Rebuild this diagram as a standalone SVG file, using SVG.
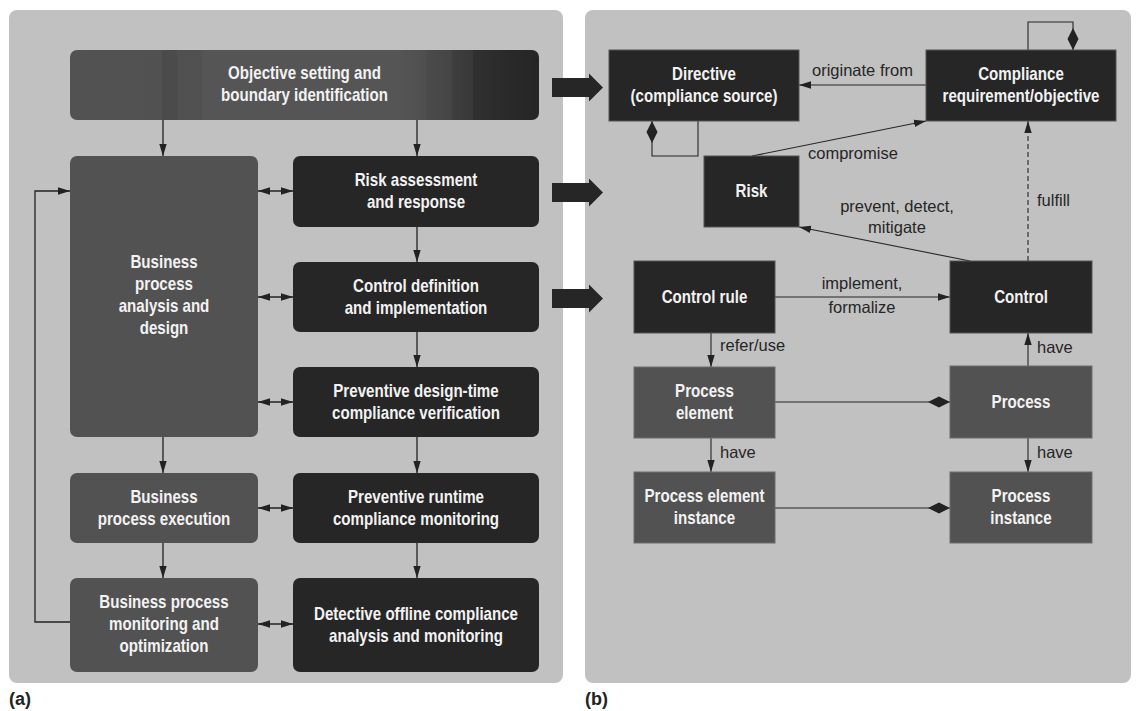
<svg xmlns="http://www.w3.org/2000/svg" width="1136" height="711" viewBox="0 0 1136 711">
  <defs>
    <style>
      .panel { fill: #c1c1c1; }
      .dk { fill: #262626; }
      .md { fill: #525252; }
      .bdk { fill: #262626; stroke: #555; stroke-width: 1; }
      .bmd { fill: #525252; stroke: #6c6c6c; stroke-width: 1; }
      .nt { font-family: "Liberation Sans", Arial, sans-serif; font-size: 18px; font-weight: bold; fill: #f2f2f2; text-anchor: middle; }
      .el { font-family: "Liberation Sans", Arial, sans-serif; font-size: 16.5px; fill: #262626; }
      .elc { text-anchor: middle; }
      .cap { font-family: "Liberation Sans", Arial, sans-serif; font-size: 18px; font-weight: bold; fill: #222; }
      .ln { fill: none; stroke: #222; stroke-width: 1.3; }
      .lt { fill: none; stroke: #262626; stroke-width: 1.1; }
      .arr { marker-end: url(#ah); }
      .dbl { marker-start: url(#ah); marker-end: url(#ah); }
      .blk { fill: #262626; }
    </style>
    <marker id="ah" markerUnits="userSpaceOnUse" markerWidth="12" markerHeight="8" refX="12" refY="4" orient="auto-start-reverse">
      <path d="M0,0.3 L12,4 L0,7.7 z" fill="#222"/>
    </marker>
    <marker id="dm" markerUnits="userSpaceOnUse" markerWidth="22" markerHeight="12" refX="22" refY="6" orient="auto-start-reverse">
      <path d="M0,6 L11,0.5 L22,6 L11,11.5 z" fill="#222"/>
    </marker>
    <!-- banded dark gradient of the top objective box -->
    <linearGradient id="objFill" x1="0" y1="0" x2="1" y2="0">
      <stop offset="0" stop-color="#525252"/>
      <stop offset="0.196" stop-color="#515151"/>
      <stop offset="0.196" stop-color="#4b4b4b"/>
      <stop offset="0.228" stop-color="#4b4b4b"/>
      <stop offset="0.228" stop-color="#505050"/>
      <stop offset="0.281" stop-color="#515151"/>
      <stop offset="0.281" stop-color="#555555"/>
      <stop offset="0.70" stop-color="#555555"/>
      <stop offset="0.76" stop-color="#4f4f4f"/>
      <stop offset="0.76" stop-color="#4b4b4b"/>
      <stop offset="0.815" stop-color="#454545"/>
      <stop offset="0.815" stop-color="#3e3e3e"/>
      <stop offset="0.86" stop-color="#383838"/>
      <stop offset="0.86" stop-color="#303030"/>
      <stop offset="0.915" stop-color="#2b2b2b"/>
      <stop offset="1" stop-color="#252525"/>
    </linearGradient>
  </defs>

  <rect width="1136" height="711" fill="#ffffff"/>

  <!-- panels -->
  <rect class="panel" x="9" y="10" width="554" height="673" rx="8"/>
  <rect class="panel" x="585" y="10" width="546" height="673" rx="8"/>
  <text class="cap" x="9" y="705">(a)</text>
  <text class="cap" x="585" y="705">(b)</text>

  <!-- block arrows linking (a) to (b) -->
  <g id="bridge">
    <polygon class="blk" points="552,78 589,78 589,73.5 603,87.5 589,101.5 589,97 552,97"/>
    <polygon class="blk" points="552,183 589,183 589,178.5 603,192.5 589,206.5 589,202 552,202"/>
    <polygon class="blk" points="552,289 589,289 589,284.5 603,298.5 589,312.5 589,308 552,308"/>
  </g>

  <!-- connectors -->
  <g id="connectors">
    <!-- (a) process flow -->
    <path class="ln arr" d="M163,120 V156"/>
    <path class="ln arr" d="M417,120 V156"/>
    <path class="ln arr" d="M417,227 V262"/>
    <path class="ln arr" d="M417,332 V367"/>
    <path class="ln arr" d="M417,437 V473"/>
    <path class="ln arr" d="M417,543 V578"/>
    <path class="ln arr" d="M163,437 V473"/>
    <path class="ln arr" d="M163,543 V578"/>
    <path class="ln dbl" d="M258,191 H293"/>
    <path class="ln dbl" d="M258,297 H293"/>
    <path class="ln dbl" d="M258,402 H293"/>
    <path class="ln dbl" d="M258,508 H293"/>
    <path class="ln dbl" d="M258,624 H293"/>
    <path class="ln arr" d="M70,622 H35 V191 H70"/>

    <!-- (b) metamodel relations -->
    <path class="lt arr" d="M926,85 H799"/>
    <path class="lt" d="M1028,50 V22 H1073 V50" marker-end="url(#dm)"/>
    <path class="lt" d="M652,121 V156 H698 V121" marker-start="url(#dm)"/>
    <path class="lt arr" d="M752,156 L926,121"/>
    <path class="lt arr" d="M970,261 L799,227"/>
    <path class="lt arr" d="M1028,261 V121" stroke-dasharray="5,3"/>
    <path class="lt arr" d="M775,297 H950"/>
    <path class="lt arr" d="M711,333 V367"/>
    <path class="lt arr" d="M711,438 V472"/>
    <path class="lt arr" d="M1028,366 V333"/>
    <path class="lt arr" d="M1028,438 V472"/>
    <path class="lt" d="M775,402 H950" marker-end="url(#dm)"/>
    <path class="lt" d="M775,508 H950" marker-end="url(#dm)"/>

    <text class="el" x="812" y="76">originate from</text>
    <text class="el" x="808" y="159">compromise</text>
    <text class="el elc" x="897" y="212">prevent, detect,</text>
    <text class="el elc" x="897" y="233">mitigate</text>
    <text class="el" x="1037" y="206">fulfill</text>
    <text class="el elc" x="862" y="289">implement,</text>
    <text class="el elc" x="862" y="313">formalize</text>
    <text class="el" x="720" y="351">refer/use</text>
    <text class="el" x="720" y="458">have</text>
    <text class="el" x="1037" y="353">have</text>
    <text class="el" x="1037" y="458">have</text>
  </g>

  <!-- (a) compliance management lifecycle -->
  <g id="objective">
    <rect x="70" y="50" width="469" height="70" rx="7" fill="url(#objFill)"/>
    <text class="nt" transform="translate(304.5,0) scale(0.84,1)"><tspan x="0" y="79">Objective setting and</tspan><tspan x="0" y="101">boundary identification</tspan></text>
  </g>
  <g id="bp-analysis">
    <rect class="md" x="70" y="156" width="188" height="281" rx="7"/>
    <text class="nt" transform="translate(164,0) scale(0.84,1)"><tspan x="0" y="268">Business</tspan><tspan x="0" y="290">process</tspan><tspan x="0" y="312">analysis and</tspan><tspan x="0" y="334">design</tspan></text>
  </g>
  <g id="risk-assessment">
    <rect class="dk" x="293" y="156" width="246" height="71" rx="7"/>
    <text class="nt" transform="translate(416,0) scale(0.84,1)"><tspan x="0" y="186">Risk assessment</tspan><tspan x="0" y="208">and response</tspan></text>
  </g>
  <g id="control-definition">
    <rect class="dk" x="293" y="262" width="246" height="70" rx="7"/>
    <text class="nt" transform="translate(416,0) scale(0.84,1)"><tspan x="0" y="292">Control definition</tspan><tspan x="0" y="314">and implementation</tspan></text>
  </g>
  <g id="design-time-verification">
    <rect class="dk" x="293" y="367" width="246" height="70" rx="7"/>
    <text class="nt" transform="translate(416,0) scale(0.84,1)"><tspan x="0" y="397">Preventive design-time</tspan><tspan x="0" y="419">compliance verification</tspan></text>
  </g>
  <g id="bp-execution">
    <rect class="md" x="70" y="473" width="188" height="70" rx="7"/>
    <text class="nt" transform="translate(164,0) scale(0.84,1)"><tspan x="0" y="503">Business</tspan><tspan x="0" y="525">process execution</tspan></text>
  </g>
  <g id="runtime-monitoring">
    <rect class="dk" x="293" y="473" width="246" height="70" rx="7"/>
    <text class="nt" transform="translate(416,0) scale(0.84,1)"><tspan x="0" y="503">Preventive runtime</tspan><tspan x="0" y="525">compliance monitoring</tspan></text>
  </g>
  <g id="bp-monitoring">
    <rect class="md" x="70" y="578" width="188" height="94" rx="7"/>
    <text class="nt" transform="translate(164,0) scale(0.84,1)"><tspan x="0" y="608">Business process</tspan><tspan x="0" y="630">monitoring and</tspan><tspan x="0" y="652">optimization</tspan></text>
  </g>
  <g id="offline-analysis">
    <rect class="dk" x="293" y="578" width="246" height="94" rx="7"/>
    <text class="nt" transform="translate(416,0) scale(0.84,1)"><tspan x="0" y="620">Detective offline compliance</tspan><tspan x="0" y="642">analysis and monitoring</tspan></text>
  </g>

  <!-- (b) compliance metamodel -->
  <g id="directive">
    <rect class="bdk" x="609" y="50" width="190" height="71"/>
    <text class="nt" transform="translate(704,0) scale(0.84,1)"><tspan x="0" y="80">Directive</tspan><tspan x="0" y="102">(compliance source)</tspan></text>
  </g>
  <g id="compliance-requirement">
    <rect class="bdk" x="926" y="50" width="190" height="71"/>
    <text class="nt" transform="translate(1021,0) scale(0.84,1)"><tspan x="0" y="80">Compliance</tspan><tspan x="0" y="102">requirement/objective</tspan></text>
  </g>
  <g id="risk">
    <rect class="bdk" x="704" y="156" width="95" height="71"/>
    <text class="nt" transform="translate(751.5,0) scale(0.84,1)"><tspan x="0" y="197">Risk</tspan></text>
  </g>
  <g id="control-rule">
    <rect class="bdk" x="634" y="261" width="141" height="72"/>
    <text class="nt" transform="translate(704.5,0) scale(0.84,1)"><tspan x="0" y="303">Control rule</tspan></text>
  </g>
  <g id="control">
    <rect class="bdk" x="950" y="261" width="142" height="72"/>
    <text class="nt" transform="translate(1021,0) scale(0.84,1)"><tspan x="0" y="303">Control</tspan></text>
  </g>
  <g id="process-element">
    <rect class="bmd" x="634" y="367" width="141" height="71"/>
    <text class="nt" transform="translate(704.5,0) scale(0.84,1)"><tspan x="0" y="397">Process</tspan><tspan x="0" y="419">element</tspan></text>
  </g>
  <g id="process">
    <rect class="bmd" x="950" y="366" width="142" height="72"/>
    <text class="nt" transform="translate(1021,0) scale(0.84,1)"><tspan x="0" y="408">Process</tspan></text>
  </g>
  <g id="process-element-instance">
    <rect class="bmd" x="634" y="472" width="141" height="71"/>
    <text class="nt" transform="translate(704.5,0) scale(0.84,1)"><tspan x="0" y="502">Process element</tspan><tspan x="0" y="524">instance</tspan></text>
  </g>
  <g id="process-instance">
    <rect class="bmd" x="950" y="472" width="142" height="71"/>
    <text class="nt" transform="translate(1021,0) scale(0.84,1)"><tspan x="0" y="502">Process</tspan><tspan x="0" y="524">instance</tspan></text>
  </g>
</svg>
